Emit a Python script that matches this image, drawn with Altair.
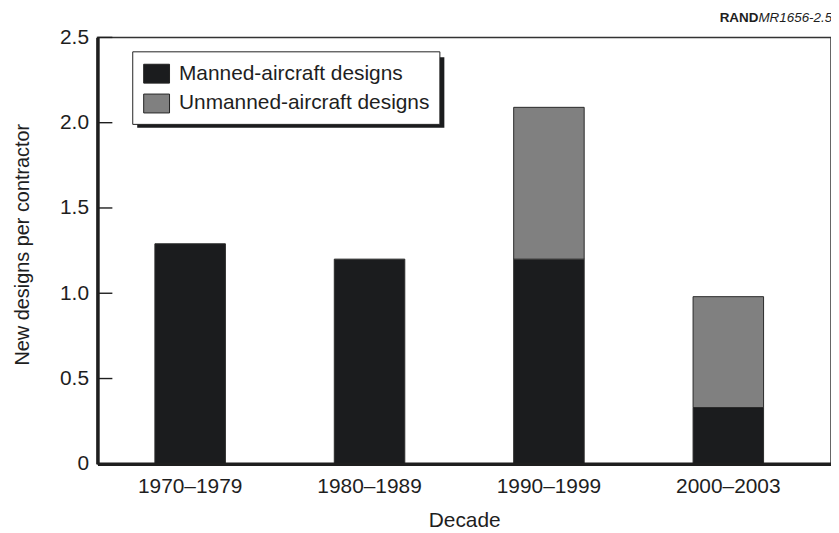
import altair as alt
import pandas as pd

# ---- data ----
decades = ["1970–1979", "1980–1989", "1990–1999", "2000–2003"]
manned = [1.29, 1.20, 1.20, 0.33]
unmanned = [0.0, 0.0, 0.89, 0.65]
series = ["Manned-aircraft designs", "Unmanned-aircraft designs"]
series_colors = ["#1b1c1e", "#808080"]
y_ticks = [0, 0.5, 1.0, 1.5, 2.0, 2.5]
source_label = ["RAND", "MR1656-2.5"]

rows = []
for d, m, u in zip(decades, manned, unmanned):
    rows.append({"Decade": d, "Type": series[0], "value": m, "order": 0})
    if u > 0:
        rows.append({"Decade": d, "Type": series[1], "value": u, "order": 1})
df = pd.DataFrame(rows)
tick_df = pd.DataFrame({"tick": y_ticks})

FONT = "Liberation Sans"
INK = "#1e1e1e"
W, H = 738, 429

y_scale = alt.Scale(domain=[0, 2.5], nice=False)

bars = alt.Chart(df).mark_bar(stroke="#2a2a2a", strokeWidth=1).encode(
    x=alt.X(
        "Decade:N",
        sort=decades,
        scale=alt.Scale(paddingInner=0.607, paddingOuter=0.348, align=0.46),
        axis=alt.Axis(
            title="Decade", labelAngle=0, ticks=False, tickSize=0,
            domainWidth=3.5, domainColor=INK, labelPadding=12,
            titlePadding=13, grid=False, zindex=2,
        ),
    ),
    y=alt.Y(
        "value:Q",
        stack="zero",
        scale=y_scale,
        axis=alt.Axis(
            title="New designs per contractor", values=y_ticks,
            labelExpr="datum.value == 0 ? '0' : format(datum.value, '.1f')",
            grid=False, ticks=False, tickSize=0, domainWidth=3.5,
            domainColor=INK, labelPadding=9, titlePadding=27,
            titleFontSize=20, titleY=208, zindex=2,
        ),
    ),
    color=alt.Color(
        "Type:N",
        scale=alt.Scale(domain=series, range=series_colors),
        legend=alt.Legend(
            title=None, orient="none", legendX=35, legendY=14,
            symbolType="M-1,-0.73H1V0.73H-1Z", symbolSize=676,
            symbolStrokeColor="#222", symbolStrokeWidth=1,
            labelFontSize=21, labelFont=FONT, labelColor=INK, labelLimit=0,
            padding=9, strokeColor="#222", fillColor="white",
            rowPadding=5, labelOffset=9, symbolOffset=2, cornerRadius=0,
        ),
    ),
    order=alt.Order("order:Q"),
)

# inward tick marks on the left axis
inward_ticks = alt.Chart(tick_df).mark_rule(
    color=INK, strokeWidth=1.4, opacity=1
).encode(y=alt.Y("tick:Q", scale=y_scale), x=alt.value(0), x2=alt.value(15))

shadow = alt.Chart(pd.DataFrame({"s": [0]})).mark_rect(color="#1b1c1e").encode(
    x=alt.value(40), x2=alt.value(349), y=alt.value(20), y2=alt.value(91)
)

rand_txt = alt.Chart(pd.DataFrame({"t": [source_label[0]]})).mark_text(
    font=FONT, fontSize=13.5, fontWeight="bold", align="left",
    baseline="alphabetic", color=INK,
).encode(text="t:N", x=alt.value(626), y=alt.value(-15))

mr_txt = alt.Chart(pd.DataFrame({"t": [source_label[1]]})).mark_text(
    font=FONT, fontSize=13.5, fontStyle="italic", align="left",
    baseline="alphabetic", color=INK,
).encode(text="t:N", x=alt.value(665), y=alt.value(-15))

chart = (
    alt.layer(shadow, bars, inward_ticks, rand_txt, mr_txt)
    .properties(
        width=W, height=H,
        autosize=alt.AutoSizeParams(type="none"),
        padding={"left": 90, "top": 28, "right": 0, "bottom": 65},
    )
    .configure(font=FONT)
    .configure_view(stroke="#333", strokeWidth=1.5)
    .configure_axis(
        labelFont=FONT, titleFont=FONT, labelFontSize=21, titleFontSize=21,
        labelColor=INK, titleColor=INK, titleFontWeight="normal",
    )
)

chart.save("out.html", embed_options={"renderer": "svg", "actions": False})
